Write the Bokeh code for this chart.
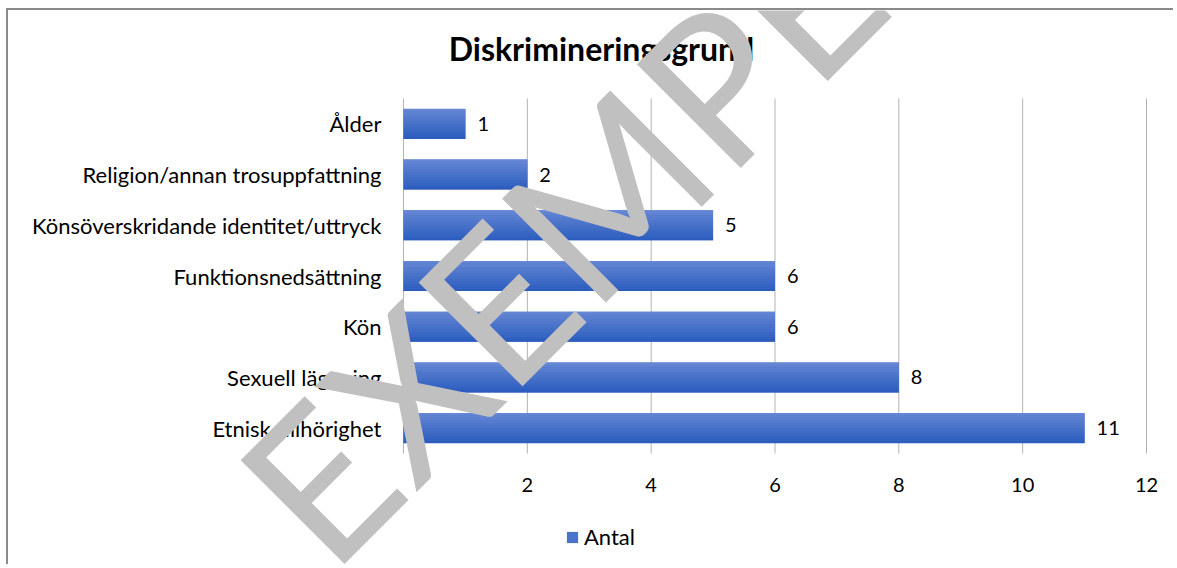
from bokeh.plotting import figure
from bokeh.models import (Range1d, FixedTicker, Legend, LegendItem, Label,
                          ColumnDataSource)
from bokeh.transform import dodge
from bokeh.core.properties import value
from bokeh.embed import file_html
from bokeh.resources import INLINE

# ---- data ----
categories = ["Ålder", "Religion/annan trosuppfattning",
              "Könsöverskridande identitet/uttryck", "Funktionsnedsättning",
              "Kön", "Sexuell läggning", "Etnisk tillhörighet"]
antal = [1, 2, 5, 6, 6, 8, 11]
x_ticks = [0, 2, 4, 6, 8, 10, 12]
title_text = "Diskrimineringsgrund"
series_name = "Antal"
watermark_text = "EXEMPEL"

# ---- layout constants (pixels inside the canvas) ----
FONT = "Lato"
W, H = 1167, 556
PX0, PX1 = 395, 1138       # x of value 0 and of the last tick
PY_TOP, PY_BOT = 88, 443   # top / bottom of the category band

n = len(categories)
ypos = list(range(n - 1, -1, -1))          # first category on top
ux = (PX1 - PX0) / (x_ticks[-1] - x_ticks[0])
uy = (PY_BOT - PY_TOP) / n
x_start = x_ticks[0] - PX0 / ux
x_end = x_start + W / ux
y_end = (n - 0.5) + PY_TOP / uy
y_start = y_end - H / uy

def fx(px):   # canvas px -> data x
    return x_start + px / ux

def fy(py):   # canvas px (from top) -> data y
    return y_end - py / uy

p = figure(width=W, height=H, output_backend="svg", toolbar_location=None,
           x_range=Range1d(x_start, x_end), y_range=Range1d(y_start, y_end),
           min_border=0, title_location=None)
p.styles = {"margin-left": "6px", "margin-top": "8px",
            "border-top": "2px solid #8a8a8a", "border-left": "2px solid #8a8a8a"}
p.outline_line_color = None
p.background_fill_color = "white"
p.border_fill_color = "white"
p.xgrid.visible = False
p.ygrid.visible = False

src = ColumnDataSource(dict(cat=categories, y=ypos, antal=antal,
                            lbl=[str(v) for v in antal]))

# vertical grid lines behind the bars, spanning the category band
p.segment(x0=x_ticks, x1=x_ticks, y0=[-0.5] * len(x_ticks),
          y1=[n - 0.5] * len(x_ticks), line_color="#b3b3b3", line_width=1)

BAR_H = 0.59
base = p.hbar(y="y", left=0, right="antal", height=BAR_H, source=src,
              fill_color="#4a74c9", line_color=None)

# vertical gradient imitation (style only)
N = 12
top_c = (100, 134, 212)
bot_c = (44, 93, 190)
sh = BAR_H / N
for k in range(N):
    t = k / (N - 1)
    col = tuple(int(round(top_c[i] + (bot_c[i] - top_c[i]) * t)) for i in range(3))
    off = BAR_H / 2 - sh * (k + 0.5)
    p.hbar(y=dodge("y", off), left=0, right="antal", height=sh * 1.05,
           source=src, fill_color="#%02x%02x%02x" % col, line_color=None)

# data labels
p.text(x="antal", y="y", text="lbl", source=src, x_offset=12,
       text_align="left", text_baseline="middle", text_font=value(FONT),
       text_font_size="20px", text_color="#000000")

# value axis under the category band
p.xaxis.fixed_location = -0.5
p.xaxis.ticker = FixedTicker(ticks=x_ticks)
p.xaxis.major_label_overrides = {0: ""}
p.xaxis.axis_line_color = None
p.xaxis.major_tick_line_color = None
p.xaxis.minor_tick_line_color = None
p.xaxis.major_label_standoff = 18
p.xaxis.major_label_text_font = FONT
p.xaxis.major_label_text_font_size = "20px"
p.xaxis.major_label_text_color = "#000000"

# category axis at value 0
p.yaxis.fixed_location = 0
p.yaxis.ticker = FixedTicker(ticks=ypos)
p.yaxis.major_label_overrides = {y: c for y, c in zip(ypos, categories)}
p.yaxis.axis_line_color = None
p.yaxis.major_tick_line_color = None
p.yaxis.minor_tick_line_color = None
p.yaxis.major_tick_out = 0
p.yaxis.major_label_standoff = 22
p.yaxis.major_label_text_font = FONT
p.yaxis.major_label_text_font_size = "22px"
p.yaxis.major_label_text_color = "#000000"

# title
title = Label(x=fx(593), y=fy(38), text=title_text, text_font=FONT,
              text_font_style="bold", text_font_size="32px", text_color="#000000",
              text_align="center", text_baseline="alphabetic")
p.add_layout(title)

# legend
legend = Legend(items=[LegendItem(label=series_name, renderers=[base])],
                location=(557, 16), orientation="horizontal",
                glyph_width=14, glyph_height=14, label_standoff=5,
                label_text_font=FONT, label_text_font_size="22px",
                label_text_color="#000000", border_line_color=None,
                background_fill_alpha=0, padding=0, margin=0)
p.add_layout(legend, "center")

# watermark
wm = Label(x=fx(267), y=fy(511), text=watermark_text, angle=45, angle_units="deg",
           text_font=FONT, text_font_size="205px", text_color="#c0c0c0",
           text_align="left", text_baseline="alphabetic")
p.add_layout(wm)

open("out.html", "w").write(file_html(p, INLINE))
